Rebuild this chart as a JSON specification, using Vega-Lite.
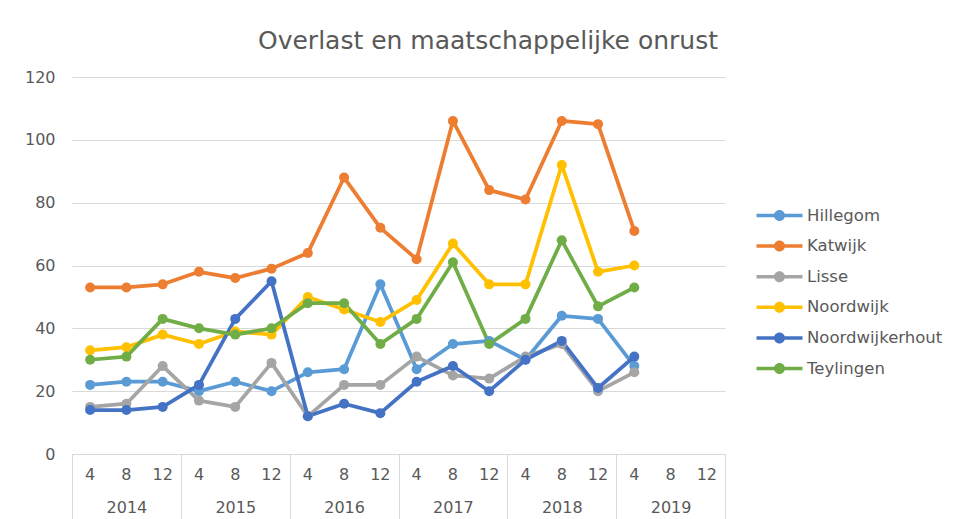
{
  "$schema": "https://vega.github.io/schema/vega-lite/v6.json",
  "width": 653,
  "height": 377,
  "autosize": {"type": "none"},
  "padding": {"left": 72, "top": 77, "right": 235, "bottom": 65},
  "background": "white",
  "title": {
    "text": "Overlast en maatschappelijke onrust",
    "anchor": "start",
    "frame": "group",
    "dx": 186,
    "offset": -5,
    "baseline": "alphabetic",
    "font": "DejaVu Sans",
    "fontSize": 25,
    "fontWeight": "normal",
    "color": "#595959"
  },
  "config": {
    "view": {"stroke": null},
    "font": "DejaVu Sans"
  },
  "data": {
    "values": [
      {"p": "2014-4", "s": "Hillegom", "v": 22}, {"p": "2014-8", "s": "Hillegom", "v": 23}, {"p": "2014-12", "s": "Hillegom", "v": 23},
      {"p": "2015-4", "s": "Hillegom", "v": 20}, {"p": "2015-8", "s": "Hillegom", "v": 23}, {"p": "2015-12", "s": "Hillegom", "v": 20},
      {"p": "2016-4", "s": "Hillegom", "v": 26}, {"p": "2016-8", "s": "Hillegom", "v": 27}, {"p": "2016-12", "s": "Hillegom", "v": 54},
      {"p": "2017-4", "s": "Hillegom", "v": 27}, {"p": "2017-8", "s": "Hillegom", "v": 35}, {"p": "2017-12", "s": "Hillegom", "v": 36},
      {"p": "2018-4", "s": "Hillegom", "v": 30}, {"p": "2018-8", "s": "Hillegom", "v": 44}, {"p": "2018-12", "s": "Hillegom", "v": 43},
      {"p": "2019-4", "s": "Hillegom", "v": 28},
      {"p": "2014-4", "s": "Katwijk", "v": 53}, {"p": "2014-8", "s": "Katwijk", "v": 53}, {"p": "2014-12", "s": "Katwijk", "v": 54},
      {"p": "2015-4", "s": "Katwijk", "v": 58}, {"p": "2015-8", "s": "Katwijk", "v": 56}, {"p": "2015-12", "s": "Katwijk", "v": 59},
      {"p": "2016-4", "s": "Katwijk", "v": 64}, {"p": "2016-8", "s": "Katwijk", "v": 88}, {"p": "2016-12", "s": "Katwijk", "v": 72},
      {"p": "2017-4", "s": "Katwijk", "v": 62}, {"p": "2017-8", "s": "Katwijk", "v": 106}, {"p": "2017-12", "s": "Katwijk", "v": 84},
      {"p": "2018-4", "s": "Katwijk", "v": 81}, {"p": "2018-8", "s": "Katwijk", "v": 106}, {"p": "2018-12", "s": "Katwijk", "v": 105},
      {"p": "2019-4", "s": "Katwijk", "v": 71},
      {"p": "2014-4", "s": "Lisse", "v": 15}, {"p": "2014-8", "s": "Lisse", "v": 16}, {"p": "2014-12", "s": "Lisse", "v": 28},
      {"p": "2015-4", "s": "Lisse", "v": 17}, {"p": "2015-8", "s": "Lisse", "v": 15}, {"p": "2015-12", "s": "Lisse", "v": 29},
      {"p": "2016-4", "s": "Lisse", "v": 12}, {"p": "2016-8", "s": "Lisse", "v": 22}, {"p": "2016-12", "s": "Lisse", "v": 22},
      {"p": "2017-4", "s": "Lisse", "v": 31}, {"p": "2017-8", "s": "Lisse", "v": 25}, {"p": "2017-12", "s": "Lisse", "v": 24},
      {"p": "2018-4", "s": "Lisse", "v": 31}, {"p": "2018-8", "s": "Lisse", "v": 35}, {"p": "2018-12", "s": "Lisse", "v": 20},
      {"p": "2019-4", "s": "Lisse", "v": 26},
      {"p": "2014-4", "s": "Noordwijk", "v": 33}, {"p": "2014-8", "s": "Noordwijk", "v": 34}, {"p": "2014-12", "s": "Noordwijk", "v": 38},
      {"p": "2015-4", "s": "Noordwijk", "v": 35}, {"p": "2015-8", "s": "Noordwijk", "v": 39}, {"p": "2015-12", "s": "Noordwijk", "v": 38},
      {"p": "2016-4", "s": "Noordwijk", "v": 50}, {"p": "2016-8", "s": "Noordwijk", "v": 46}, {"p": "2016-12", "s": "Noordwijk", "v": 42},
      {"p": "2017-4", "s": "Noordwijk", "v": 49}, {"p": "2017-8", "s": "Noordwijk", "v": 67}, {"p": "2017-12", "s": "Noordwijk", "v": 54},
      {"p": "2018-4", "s": "Noordwijk", "v": 54}, {"p": "2018-8", "s": "Noordwijk", "v": 92}, {"p": "2018-12", "s": "Noordwijk", "v": 58},
      {"p": "2019-4", "s": "Noordwijk", "v": 60},
      {"p": "2014-4", "s": "Noordwijkerhout", "v": 14}, {"p": "2014-8", "s": "Noordwijkerhout", "v": 14}, {"p": "2014-12", "s": "Noordwijkerhout", "v": 15},
      {"p": "2015-4", "s": "Noordwijkerhout", "v": 22}, {"p": "2015-8", "s": "Noordwijkerhout", "v": 43}, {"p": "2015-12", "s": "Noordwijkerhout", "v": 55},
      {"p": "2016-4", "s": "Noordwijkerhout", "v": 12}, {"p": "2016-8", "s": "Noordwijkerhout", "v": 16}, {"p": "2016-12", "s": "Noordwijkerhout", "v": 13},
      {"p": "2017-4", "s": "Noordwijkerhout", "v": 23}, {"p": "2017-8", "s": "Noordwijkerhout", "v": 28}, {"p": "2017-12", "s": "Noordwijkerhout", "v": 20},
      {"p": "2018-4", "s": "Noordwijkerhout", "v": 30}, {"p": "2018-8", "s": "Noordwijkerhout", "v": 36}, {"p": "2018-12", "s": "Noordwijkerhout", "v": 21},
      {"p": "2019-4", "s": "Noordwijkerhout", "v": 31},
      {"p": "2014-4", "s": "Teylingen", "v": 30}, {"p": "2014-8", "s": "Teylingen", "v": 31}, {"p": "2014-12", "s": "Teylingen", "v": 43},
      {"p": "2015-4", "s": "Teylingen", "v": 40}, {"p": "2015-8", "s": "Teylingen", "v": 38}, {"p": "2015-12", "s": "Teylingen", "v": 40},
      {"p": "2016-4", "s": "Teylingen", "v": 48}, {"p": "2016-8", "s": "Teylingen", "v": 48}, {"p": "2016-12", "s": "Teylingen", "v": 35},
      {"p": "2017-4", "s": "Teylingen", "v": 43}, {"p": "2017-8", "s": "Teylingen", "v": 61}, {"p": "2017-12", "s": "Teylingen", "v": 35},
      {"p": "2018-4", "s": "Teylingen", "v": 43}, {"p": "2018-8", "s": "Teylingen", "v": 68}, {"p": "2018-12", "s": "Teylingen", "v": 47},
      {"p": "2019-4", "s": "Teylingen", "v": 53}
    ]
  },
  "encoding": {
    "y": {
      "field": "v",
      "type": "quantitative",
      "scale": {"domain": [0, 120], "nice": false},
      "axis": {
        "title": null,
        "values": [0, 20, 40, 60, 80, 100, 120],
        "domain": false,
        "ticks": false,
        "grid": true,
        "gridColor": "#d9d9d9",
        "gridWidth": 1,
        "labelColor": "#595959",
        "labelFontSize": 16,
        "labelFont": "DejaVu Sans",
        "labelPadding": 17
      }
    },
    "color": {
      "field": "s",
      "type": "nominal",
      "scale": {
        "domain": ["Hillegom", "Katwijk", "Lisse", "Noordwijk", "Noordwijkerhout", "Teylingen"],
        "range": ["#5B9BD5", "#ED7D31", "#A5A5A5", "#FFC000", "#4472C4", "#70AD47"]
      },
      "legend": {
        "title": null,
        "orient": "none",
        "legendX": 696,
        "legendY": 127,
        "padding": 0,
        "symbolType": "M-2,-0.152L2,-0.152L2,0.152L-2,0.152Z M-0.478,0A0.478,0.478 0 1,1 0.478,0A0.478,0.478 0 1,1 -0.478,0Z",
        "symbolSize": 529,
        "symbolStrokeWidth": 0,
        "symbolOpacity": 1,
        "labelOffset": 16,
        "labelFont": "DejaVu Sans",
        "labelFontSize": 16.5,
        "labelColor": "#595959",
        "rowPadding": 10.6,
        "encode": {
          "symbols": {"update": {"fill": {"scale": "color", "field": "value"}, "opacity": {"value": 1}}}
        }
      }
    }
  },
  "layer": [
    {
      "mark": {"type": "line", "strokeWidth": 3.75, "strokeCap": "round", "strokeJoin": "round"},
      "encoding": {
        "x": {
          "field": "p",
          "type": "ordinal",
          "bandPosition": 0.5,
          "scale": {
            "type": "band",
            "paddingInner": 0,
            "paddingOuter": 0,
            "domain": ["2014-4", "2014-8", "2014-12", "2015-4", "2015-8", "2015-12", "2016-4", "2016-8", "2016-12", "2017-4", "2017-8", "2017-12", "2018-4", "2018-8", "2018-12", "2019-4", "2019-8", "2019-12"]
          },
          "axis": {
            "title": null,
            "orient": "bottom",
            "labelExpr": "split(datum.value, '-')[1]",
            "labelAngle": 0,
            "labelColor": "#595959",
            "labelFont": "DejaVu Sans",
            "labelFontSize": 16,
            "labelPadding": 12,
            "ticks": false,
            "grid": false,
            "domain": true,
            "domainColor": "#d9d9d9",
            "domainWidth": 1
          }
        }
      }
    },
    {
      "mark": {"type": "point", "filled": true, "size": 100, "opacity": 1},
      "encoding": {
        "x": {
          "field": "p",
          "type": "ordinal",
          "bandPosition": 0.5,
          "axis": {
            "title": null,
            "orient": "bottom",
            "labelExpr": "split(datum.value, '-')[1] == '8' ? split(datum.value, '-')[0] : ''",
            "labelAngle": 0,
            "labelColor": "#595959",
            "labelFont": "DejaVu Sans",
            "labelFontSize": 16,
            "labelPadding": -20,
            "labelOverlap": false,
            "tickBand": "extent",
            "ticks": true,
            "tickSize": 65,
            "tickWidth": 1,
            "tickColor": {
              "condition": {"test": "split(datum.value, '-')[1] == '12' || datum.extra", "value": "#d9d9d9"},
              "value": "rgba(0,0,0,0)"
            },
            "grid": false,
            "domain": false
          }
        }
      }
    }
  ],
  "resolve": {"axis": {"x": "independent"}}
}
